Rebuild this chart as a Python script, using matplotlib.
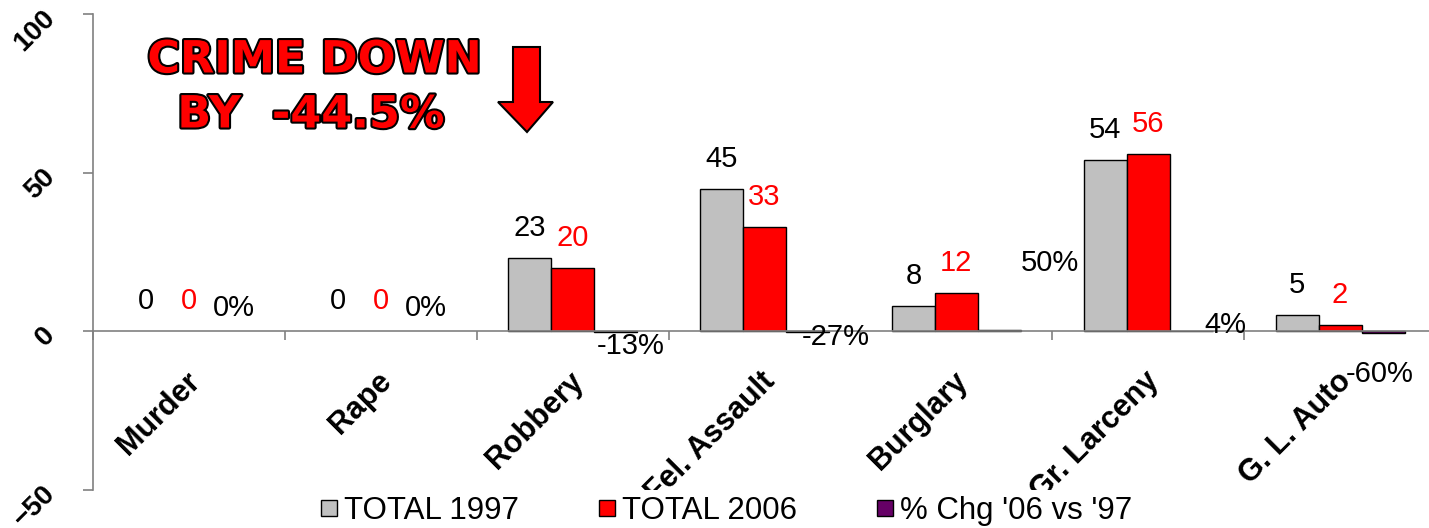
import numpy as np
import matplotlib.pyplot as plt
import matplotlib.patheffects as pe
from matplotlib.lines import Line2D
from matplotlib.patches import Polygon

# data
categories = ['Murder', 'Rape', 'Robbery', 'Fel. Assault', 'Burglary', 'Gr. Larceny', 'G. L. Auto']
total_1997 = [0, 0, 23, 45, 8, 54, 5]
total_2006 = [0, 0, 20, 33, 12, 56, 2]
pct_change = [0.0, 0.0, -0.13, -0.27, 0.50, 0.04, -0.60]
series_names = ['TOTAL 1997', 'TOTAL 2006', "% Chg '06 vs '97"]

# the % labels were dragged around by hand in the original, nudge them (points)
pct_offsets = [(1.4, 16.6), (1.4, 16.6), (10.8, -10.8), (20, -4.3),
               (36.7, 49), (24.5, 4.3), (-2.2, -31)]

plt.rcParams['font.family'] = ['Liberation Sans', 'DejaVu Sans']

W, H = 1429, 528
fig = plt.figure(figsize=(W / 100, H / 100), dpi=100)
ax = fig.add_axes([93 / W, 1 - 490 / H, 1343 / W, 476 / H])

colors = ['#C0C0C0', '#FF0000', '#660066']
x = np.arange(len(categories)) + 0.5
w = 0.224

def edge_widths(vals):
    # excel doesn't draw an outline for empty bars
    return [1.0 if v != 0 else 0 for v in vals]

ax.bar(x - w, total_1997, w, color=colors[0], edgecolor='black', lw=edge_widths(total_1997))
ax.bar(x, total_2006, w, color=colors[1], edgecolor='black', lw=edge_widths(total_2006))
ax.bar(x + w, pct_change, w, color=colors[2], edgecolor='black', lw=edge_widths(pct_change))

# value labels
for i in range(len(categories)):
    ax.annotate(str(total_1997[i]), (x[i] - w, total_1997[i]), xytext=(0, 21.6),
                textcoords='offset points', ha='center', va='center', fontsize=21, color='black')
    ax.annotate(str(total_2006[i]), (x[i], total_2006[i]), xytext=(0, 21.6),
                textcoords='offset points', ha='center', va='center', fontsize=21, color='red')
    ax.annotate('{:.0%}'.format(pct_change[i]), (x[i] + w, 0), xytext=pct_offsets[i],
                textcoords='offset points', ha='center', va='center', fontsize=21, color='black')
    ax.annotate(categories[i], (x[i], 0), xytext=(-3, -25), textcoords='offset points',
                rotation=45, rotation_mode='anchor', ha='right', va='top',
                fontsize=22, fontweight='bold')

ax.set_xlim(0, 7)
ax.set_ylim(-50, 100)
ax.spines['top'].set_visible(False)
ax.spines['right'].set_visible(False)
ax.spines['bottom'].set_position(('data', 0))
for s in ['left', 'bottom']:
    ax.spines[s].set_color('#808080')
    ax.spines[s].set_linewidth(1.2)

ax.set_xticks(np.arange(0, 8))
ax.set_xticklabels([])
ax.tick_params(axis='x', direction='out', length=6.5, color='#808080', width=1.2)
ax.set_yticks([-50, 0, 50, 100])
ax.tick_params(axis='y', length=7.2, color='#808080', width=1.2, pad=23, labelsize=20)
for lab in ax.get_yticklabels():
    lab.set_rotation(45)
    lab.set_rotation_mode('anchor')
    lab.set_ha('right')
    lab.set_va('center')
    lab.set_fontweight('bold')

handles = [Line2D([], [], marker='s', ls='', markersize=11, markerfacecolor=c,
                  markeredgecolor='black', markeredgewidth=1) for c in colors]
leg = fig.legend(handles, series_names, loc='center', bbox_to_anchor=(0.508, 0.032), ncol=3,
                 fontsize=22.5, handlelength=0.6, handletextpad=0.2, columnspacing=2.5,
                 borderpad=0.2, frameon=True, framealpha=1)
leg.get_frame().set_facecolor('white')
leg.get_frame().set_edgecolor('none')

# banner
stroke = [pe.withStroke(linewidth=3, foreground='black')]
fig.text(315 / W, 1 - 60 / H, 'CRIME DOWN', ha='center', va='center', fontsize=32,
         fontweight='bold', family='DejaVu Sans', color='red', path_effects=stroke)
fig.text(311 / W, 1 - 115 / H, 'BY  -44.5%', ha='center', va='center', fontsize=32,
         fontweight='bold', family='DejaVu Sans', color='red', path_effects=stroke)
arrow_px = [(513, 47), (540, 47), (540, 102), (553, 102), (527, 132), (498, 102), (513, 102)]
fig.patches.append(Polygon([(px / W, 1 - py / H) for px, py in arrow_px], closed=True,
                           transform=fig.transFigure, facecolor='red', edgecolor='black', lw=1.5))

fig.savefig('out.png', dpi=100)
